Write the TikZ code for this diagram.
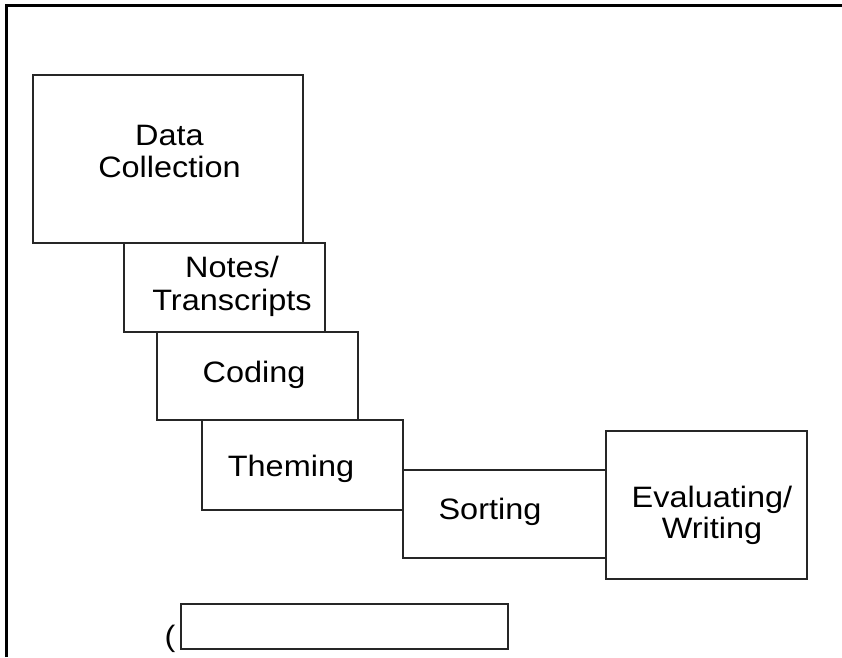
\documentclass[tikz,border=0pt]{standalone}
\usepackage{fontspec}
\setmainfont{Liberation Sans}[FakeStretch=1.1]
\begin{document}
\begin{tikzpicture}[x=1pt,y=-1pt,
  stagebox/.style={draw=black!85, line width=2pt, inner sep=0pt, outer sep=0pt},
  label/.style={font=\fontsize{29.5}{32}\selectfont, align=center, anchor=base, inner sep=0pt},
  frameline/.style={draw=black, line width=3pt}]
\useasboundingbox (0,0) rectangle (842,657);
% frame
\coordinate (fl) at (6,657);
\coordinate (fc) at (6,5.5);
\coordinate (fr) at (842,5.5);
\draw[frameline] (fl) -- (fc) -- (fr);
% boxes
\node[stagebox, minimum width=270pt, minimum height=168pt] (dc) at (168,159) {};
\node[stagebox, minimum width=201pt, minimum height=89pt] (nt) at (224.5,287.5) {};
\node[stagebox, minimum width=201pt, minimum height=88pt] (cd) at (257.5,376) {};
\node[stagebox, minimum width=201pt, minimum height=90pt] (th) at (302.5,465) {};
\node[stagebox, minimum width=203pt, minimum height=88pt] (so) at (504.5,514) {};
\node[stagebox, minimum width=201pt, minimum height=148pt] (ev) at (706.5,505) {};
\node[stagebox, minimum width=327pt, minimum height=45pt] (bx) at (344.5,626.5) {};
% texts (base anchor = baseline of the last line)
\node[label] (dct) at (169.5,177) {Data\\Collection};
\node[label, font=\fontsize{29.5}{33}\selectfont] (ntt) at (232,310) {Notes/\\Transcripts};
\node[label] (cdt) at (254,382) {Coding};
\node[label] (tht) at (291,476) {Theming};
\node[label] (sot) at (490,519) {Sorting};
\node[label, font=\fontsize{29.5}{31}\selectfont] (evt) at (712,538) {Evaluating/\\Writing};
\node[label] (par) at (170,646.5) {(};
\end{tikzpicture}
\end{document}
